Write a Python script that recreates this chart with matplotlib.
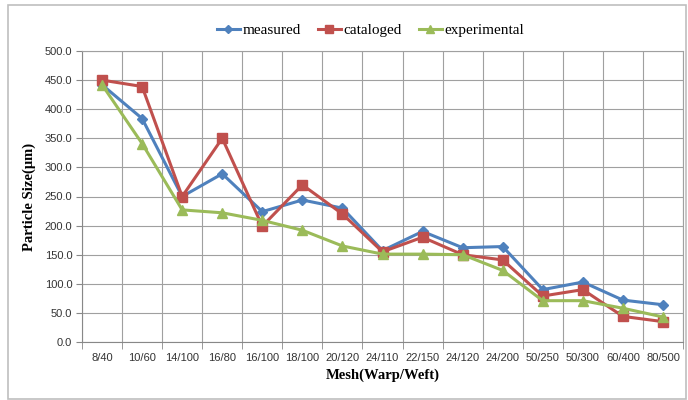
import matplotlib.pyplot as plt
from matplotlib.patches import Rectangle
import numpy as np

meshes = ['8/40', '10/60', '14/100', '16/80', '16/100', '18/100', '20/120', '24/110',
          '22/150', '24/120', '24/200', '50/250', '50/300', '60/400', '80/500']
measured = [442, 384, 250, 289, 224, 244, 230, 157, 190, 162, 164, 90, 103, 72, 64]
cataloged = [450, 439, 250, 350, 199, 270, 220, 155, 180, 150, 141, 79, 90, 44, 35]
experimental = [442, 341, 227, 222, 209, 192, 165, 151, 151, 150, 123, 71, 71, 58, 43]

fig = plt.figure(figsize=(6.88, 4.0), dpi=100)
ax = fig.add_axes([82 / 688, 58 / 400, 601 / 688, 291 / 400])

x = np.arange(len(meshes))
ax.plot(x, measured, color='#4F81BD', marker='D', markersize=5, lw=2.2, label='measured')
ax.plot(x, cataloged, color='#C0504D', marker='s', markersize=7, lw=2.2, label='cataloged')
ax.plot(x, experimental, color='#9BBB59', marker='^', markersize=7, lw=2.2, label='experimental')

ax.set_xlim(-0.5, len(meshes) - 0.5)
ax.set_ylim(0, 500)
ax.set_yticks(np.arange(0, 501, 50))
ax.set_yticklabels(['%.1f' % v for v in np.arange(0, 501, 50)], fontsize=8,
                   family='Liberation Sans', color='#333333')
ax.set_xticks(x)
ax.set_xticklabels(meshes, fontsize=8, family='Liberation Sans', color='#333333')
ax.set_xticks(np.arange(-0.5, len(meshes)), minor=True)
ax.tick_params(axis='x', which='major', length=0, pad=8)
ax.tick_params(axis='x', which='minor', length=5, color='#888888')
ax.tick_params(axis='y', length=4, color='#888888', pad=3)
ax.grid(True, axis='y', color='#A0A0A0', lw=0.8)
ax.grid(True, axis='x', which='minor', color='#A0A0A0', lw=0.8)
for s in ax.spines.values():
    s.set_color('#A0A0A0')
    s.set_linewidth(0.8)
ax.spines['left'].set_color('#888888')
ax.spines['bottom'].set_color('#888888')

ax.set_ylabel('Particle Size(μm)', fontsize=10.5, fontweight='bold',
              family='Liberation Serif', labelpad=6)
ax.set_xlabel('Mesh(Warp/Weft)', fontsize=10.5, fontweight='bold',
              family='Liberation Serif', labelpad=4)

leg = ax.legend(loc='lower center', bbox_to_anchor=(0.48, 1.0), ncol=3, frameon=False,
                prop={'family': 'Liberation Serif', 'size': 11}, handlelength=1.5,
                columnspacing=1.1, handletextpad=0.2, markerscale=0.75)

fig.patches.append(Rectangle((8 / 688, 1 / 400), 678 / 688, 394 / 400, transform=fig.transFigure,
                             fill=False, edgecolor='#BFBFBF', lw=1.2))

fig.savefig('out.png', dpi=100)
